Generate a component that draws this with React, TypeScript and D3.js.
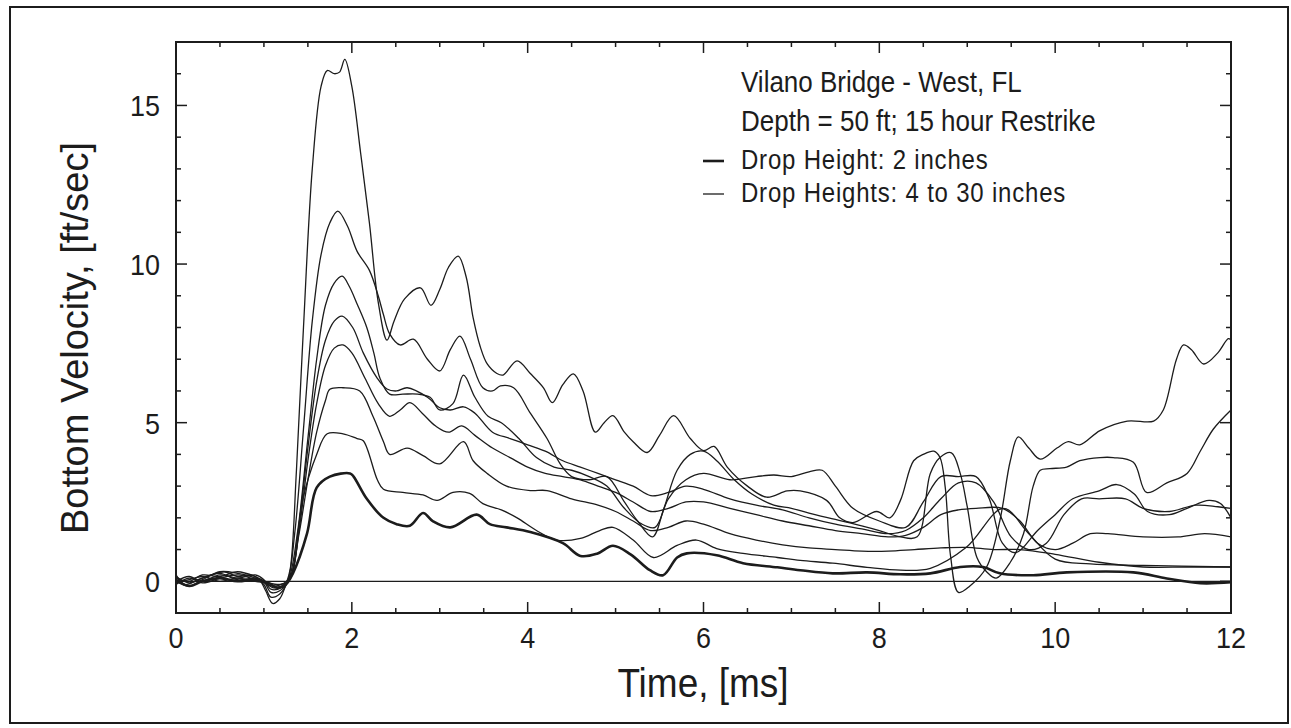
import React from "react";
import * as d3 from "d3";

type P = [number, number];

const xTicksMajor = [0, 2, 4, 6, 8, 10, 12];
const yTicksMajor = [0, 5, 10, 15];
const titleLines = ["Vilano Bridge - West, FL", "Depth = 50 ft; 15 hour Restrike"];
const legendLabels = ["Drop Height: 2 inches", "Drop Heights: 4 to 30 inches"];
const xTitle = "Time, [ms]";
const yTitle = "Bottom Velocity, [ft/sec]";

// Drop height 2 inches (thick)
const curve2in: P[] = [
  [0, 0.05], [0.15, -0.15], [0.3, 0.0], [0.5, 0.1], [0.7, 0.0], [0.9, 0.05], [1.05, -0.05], [1.15, -0.2], [1.25, -0.1],
  [1.33, 0.25], [1.49, 1.5], [1.6, 2.95], [1.75, 3.3], [1.98, 3.4], [2.02, 3.3], [2.17, 2.6], [2.36, 2.0], [2.51, 1.8],
  [2.66, 1.75], [2.81, 2.15], [2.92, 1.9], [3.12, 1.7], [3.42, 2.1], [3.57, 1.8], [3.76, 1.7], [4.03, 1.55], [4.4, 1.2],
  [4.6, 0.8], [4.79, 0.87], [4.97, 1.12], [5.17, 0.85], [5.39, 0.35], [5.54, 0.19], [5.7, 0.75], [5.81, 0.88], [6.15, 0.82],
  [6.45, 0.57], [6.84, 0.44], [7.1, 0.35], [7.47, 0.25], [7.86, 0.28], [8.24, 0.22], [8.58, 0.25], [8.92, 0.45], [9.18, 0.45],
  [9.37, 0.25], [9.75, 0.19], [10.13, 0.28], [10.89, 0.28], [11.27, 0.09], [11.65, -0.06], [12, -0.03],
];

// Drop heights 4 to 30 inches (thin)
const curveA: P[] = [
  [0, 0.2], [0.1, -0.1], [0.25, 0.05], [0.4, 0.2], [0.55, 0.3], [0.7, 0.15], [0.85, 0.2], [0.95, 0.05], [1.02, -0.3],
  [1.1, -0.7], [1.18, -0.55], [1.25, -0.1], [1.3, 0.4], [1.37, 3.5], [1.45, 8.0], [1.55, 13.0], [1.65, 15.6], [1.72, 16.1],
  [1.8, 16.0], [1.86, 16.05], [1.92, 16.45], [2.0, 15.6], [2.1, 13.5], [2.2, 11.3], [2.3, 8.8], [2.4, 7.6], [2.48, 8.2],
  [2.6, 8.9], [2.78, 9.25], [2.9, 8.7], [3.0, 9.2], [3.1, 9.9], [3.21, 10.25], [3.3, 9.6], [3.38, 8.3], [3.46, 7.4],
  [3.54, 6.85], [3.65, 6.55], [3.72, 6.5], [3.88, 6.95], [4.03, 6.55], [4.18, 6.1], [4.28, 5.63], [4.4, 6.2], [4.52, 6.54],
  [4.63, 6.0], [4.77, 4.7], [4.87, 5.0], [4.97, 5.22], [5.1, 4.7], [5.2, 4.4], [5.36, 4.06], [5.5, 4.6], [5.66, 5.22],
  [5.85, 4.5], [6.0, 4.12], [6.12, 4.25], [6.27, 3.6], [6.5, 3.0], [6.72, 2.65], [6.95, 2.85], [7.1, 2.85], [7.4, 2.55],
  [7.55, 2.0], [7.7, 1.85], [7.97, 2.2], [8.12, 2.0], [8.24, 2.55], [8.39, 3.8], [8.5, 4.0], [8.62, 4.1], [8.69, 3.9],
  [8.75, 2.95], [8.81, 0.8], [8.9, -0.35], [9.03, -0.15], [9.22, 0.45], [9.37, 1.9], [9.49, 3.8], [9.58, 4.55], [9.7, 4.2],
  [9.83, 3.85], [10.02, 4.2], [10.15, 4.4], [10.28, 4.3], [10.51, 4.75], [10.82, 5.05], [11.12, 5.05], [11.23, 5.4],
  [11.38, 7.0], [11.46, 7.45], [11.55, 7.3], [11.69, 6.85], [11.85, 7.2], [11.97, 7.65], [12, 7.6],
];

const curveB: P[] = [
  [0, 0.0], [0.15, -0.15], [0.3, 0.05], [0.5, 0.3], [0.7, 0.25], [0.9, 0.1], [1.0, -0.1], [1.08, -0.5], [1.18, -0.4],
  [1.27, 0.0], [1.35, 1.5], [1.45, 4.8], [1.55, 8.2], [1.65, 10.3], [1.75, 11.3], [1.84, 11.67], [1.95, 11.2], [2.06, 10.4],
  [2.2, 9.8], [2.3, 9.0], [2.36, 8.4], [2.43, 7.8], [2.55, 7.45], [2.7, 7.63], [2.86, 7.0], [3.0, 6.63], [3.12, 7.3],
  [3.23, 7.73], [3.35, 7.0], [3.49, 6.1], [3.6, 6.0], [3.69, 6.16], [3.84, 6.1], [4.03, 5.3], [4.22, 4.5], [4.37, 3.7],
  [4.5, 3.3], [4.7, 3.2], [4.9, 3.3], [5.1, 2.5], [5.25, 1.9], [5.42, 1.4], [5.55, 2.3], [5.7, 3.5], [5.85, 4.0], [6.0, 4.1],
  [6.15, 3.8], [6.35, 3.2], [6.55, 2.75], [6.8, 2.4], [7.0, 2.3], [7.2, 2.15], [7.5, 1.95], [7.8, 1.75], [8.0, 1.6],
  [8.24, 1.4], [8.43, 1.4], [8.58, 3.4], [8.69, 3.9], [8.82, 4.05], [8.92, 3.4], [9.0, 2.35], [9.11, 0.75], [9.22, 0.3],
  [9.33, 0.1], [9.49, 0.6], [9.64, 1.5], [9.75, 3.0], [9.83, 3.5], [9.94, 3.55], [10.13, 3.6], [10.28, 3.8], [10.51, 3.9],
  [10.66, 3.9], [10.89, 3.75], [11.04, 2.8], [11.27, 3.1], [11.5, 3.4], [11.65, 4.1], [11.8, 4.8], [12, 5.4],
];

const curveC: P[] = [
  [0, 0.1], [0.15, 0.0], [0.3, 0.2], [0.5, 0.15], [0.7, 0.3], [0.9, 0.15], [1.0, 0.0], [1.08, -0.35], [1.18, -0.3],
  [1.28, 0.05], [1.38, 1.5], [1.5, 4.5], [1.6, 7.0], [1.7, 8.7], [1.8, 9.4], [1.89, 9.62], [1.97, 9.3], [2.06, 8.74],
  [2.17, 8.0], [2.25, 7.2], [2.32, 6.4], [2.43, 5.9], [2.58, 5.9], [2.75, 5.9], [2.89, 5.8], [3.0, 5.4], [3.15, 5.6],
  [3.27, 6.5], [3.4, 5.8], [3.55, 5.2], [3.7, 5.0], [3.9, 4.5], [4.1, 3.9], [4.3, 3.6], [4.5, 3.5], [4.7, 3.3], [4.9, 3.0],
  [5.1, 2.3], [5.3, 1.8], [5.45, 1.7], [5.6, 2.6], [5.8, 3.2], [6.0, 3.4], [6.3, 3.2], [6.6, 3.3], [6.8, 3.35], [7.0, 3.3],
  [7.2, 3.45], [7.35, 3.5], [7.5, 3.0], [7.7, 2.3], [8.0, 1.9], [8.3, 1.7], [8.5, 2.5], [8.7, 3.3], [8.9, 3.3], [9.1, 3.3],
  [9.25, 2.6], [9.4, 1.2], [9.55, 0.9], [9.8, 1.6], [10.0, 2.1], [10.2, 2.6], [10.5, 2.85], [10.7, 3.05], [10.9, 2.75],
  [11.05, 2.2], [11.3, 2.1], [11.5, 2.3], [11.75, 2.55], [11.88, 2.45], [12, 2.0],
];

const curveD: P[] = [
  [0, -0.1], [0.15, 0.1], [0.3, 0.0], [0.5, 0.2], [0.7, 0.1], [0.9, 0.2], [1.0, 0.05], [1.08, -0.25], [1.2, -0.2],
  [1.3, 0.1], [1.4, 1.8], [1.5, 4.2], [1.6, 6.3], [1.7, 7.6], [1.8, 8.2], [1.89, 8.36], [2.01, 8.0], [2.13, 7.2],
  [2.29, 6.4], [2.4, 6.06], [2.51, 6.0], [2.63, 6.1], [2.86, 5.8], [3.0, 5.47], [3.12, 5.4], [3.27, 5.5], [3.4, 5.3],
  [3.6, 4.7], [3.8, 4.5], [4.0, 4.3], [4.2, 4.1], [4.4, 3.8], [4.6, 3.6], [4.8, 3.4], [5.0, 3.2], [5.2, 3.0], [5.4, 2.7],
  [5.6, 2.8], [5.8, 3.0], [6.0, 2.9], [6.3, 2.6], [6.6, 2.4], [6.9, 2.25], [7.2, 2.0], [7.5, 1.8], [7.8, 1.65], [8.1, 1.5],
  [8.3, 1.6], [8.5, 2.0], [8.7, 2.6], [8.9, 3.1], [9.1, 3.1], [9.3, 2.5], [9.5, 1.4], [9.7, 1.0], [9.9, 1.2], [10.1, 2.1],
  [10.3, 2.6], [10.5, 2.6], [10.8, 2.6], [11.0, 2.3], [11.3, 2.2], [11.6, 2.4], [11.85, 2.35], [12, 2.3],
];

const curveE: P[] = [
  [0, 0.15], [0.15, -0.05], [0.3, 0.1], [0.5, 0.25], [0.7, 0.05], [0.9, 0.1], [1.0, 0.0], [1.1, -0.2], [1.2, -0.15],
  [1.3, 0.1], [1.4, 1.6], [1.5, 3.8], [1.6, 5.6], [1.7, 6.8], [1.8, 7.35], [1.9, 7.45], [2.0, 7.2], [2.15, 6.4],
  [2.3, 5.6], [2.43, 5.2], [2.55, 5.4], [2.66, 5.63], [2.8, 5.3], [2.95, 4.9], [3.1, 4.7], [3.25, 4.9], [3.4, 4.6],
  [3.6, 4.2], [3.8, 3.9], [4.0, 3.6], [4.2, 3.4], [4.4, 3.3], [4.6, 3.2], [4.8, 3.0], [5.0, 2.8], [5.2, 2.5], [5.4, 2.2],
  [5.6, 2.3], [5.8, 2.5], [6.0, 2.5], [6.3, 2.3], [6.6, 2.1], [6.9, 1.9], [7.2, 1.75], [7.5, 1.6], [7.8, 1.5], [8.1, 1.4],
  [8.3, 1.45], [8.5, 1.7], [8.7, 2.1], [8.9, 2.25], [9.1, 2.3], [9.4, 2.3], [9.6, 1.9], [9.8, 1.2], [10.0, 1.0],
  [10.2, 1.2], [10.4, 1.5], [10.6, 1.5], [11.0, 1.4], [11.4, 1.4], [11.7, 1.5], [12, 1.4],
];

const curveF: P[] = [
  [0, 0.0], [0.15, 0.15], [0.3, -0.05], [0.5, 0.1], [0.7, 0.2], [0.9, 0.05], [1.0, -0.05], [1.1, -0.15], [1.2, -0.1],
  [1.3, 0.15], [1.4, 1.5], [1.5, 3.2], [1.6, 4.7], [1.7, 5.7], [1.75, 6.05], [1.9, 6.1], [2.09, 6.0], [2.24, 5.2],
  [2.36, 4.4], [2.43, 4.0], [2.63, 4.2], [2.81, 3.96], [3.0, 3.7], [3.27, 4.4], [3.38, 3.8], [3.54, 3.4], [3.76, 3.0],
  [4.03, 2.86], [4.22, 2.86], [4.5, 2.6], [4.8, 2.4], [5.0, 2.2], [5.2, 1.9], [5.4, 1.6], [5.6, 1.7], [5.8, 1.9],
  [6.0, 1.8], [6.3, 1.5], [6.6, 1.3], [6.9, 1.15], [7.2, 1.05], [7.5, 1.0], [7.8, 0.95], [8.1, 0.95], [8.4, 1.0],
  [8.7, 1.05], [8.99, 1.07], [9.3, 1.0], [9.6, 1.0], [10.0, 0.85], [10.5, 0.6], [11.0, 0.45], [11.5, 0.45], [12, 0.45],
];

const curveG: P[] = [
  [0, -0.05], [0.15, 0.05], [0.3, 0.15], [0.5, 0.0], [0.7, 0.1], [0.9, 0.0], [1.05, -0.05], [1.15, -0.1], [1.25, -0.05],
  [1.32, 0.2], [1.44, 2.55], [1.6, 4.0], [1.72, 4.65], [1.9, 4.65], [2.06, 4.5], [2.13, 4.43], [2.29, 3.2], [2.36, 2.9],
  [2.58, 2.8], [2.81, 2.72], [2.97, 2.55], [3.15, 2.8], [3.34, 2.77], [3.49, 2.45], [3.7, 2.25], [3.88, 2.0], [4.1, 1.6],
  [4.33, 1.3], [4.6, 1.35], [4.82, 1.6], [4.97, 1.7], [5.2, 1.3], [5.43, 0.75], [5.7, 1.13], [5.92, 1.3], [6.15, 1.03],
  [6.45, 0.88], [6.84, 0.75], [7.1, 0.66], [7.47, 0.57], [7.86, 0.44], [8.24, 0.35], [8.58, 0.41], [8.99, 1.07],
  [9.41, 2.3], [9.7, 1.5], [10.0, 0.7], [10.4, 0.55], [11.0, 0.5], [12, 0.45],
];

const thinCurves: P[][] = [curveA, curveB, curveC, curveD, curveE, curveF, curveG];

const W = 1291;
const H = 728;
const plot = { left: 176, right: 1231, top: 42, bottom: 613 };

export default function App() {
  const x = d3.scaleLinear().domain([0, 12]).range([plot.left, plot.right]);
  const y = d3.scaleLinear().domain([-1, 17]).range([plot.bottom, plot.top]);
  const line = d3
    .line<P>()
    .x((d) => x(d[0]))
    .y((d) => y(d[1]))
    .curve(d3.curveCatmullRom.alpha(0.5));

  const xMinor = d3.range(0, 12.001, 0.5);
  const yMinor = d3.range(-1, 17.001, 1);
  const ink = "#1c1c1c";
  const font = "'Liberation Sans', Arial, Helvetica, sans-serif";
  const sy = 1.12;

  return (
    <svg
      width={W}
      height={H}
      style={{ position: "absolute", left: 0, top: 0, background: "#fff" }}
      fontFamily={font}
    >
      <rect x={0} y={0} width={W} height={H} fill="#fff" />
      <rect x={10} y={7} width={1278} height={716} fill="none" stroke={ink} strokeWidth={2} />

      <defs>
        <clipPath id="plotClip">
          <rect x={plot.left} y={plot.top} width={plot.right - plot.left} height={plot.bottom - plot.top} />
        </clipPath>
      </defs>

      <line x1={x(0)} x2={x(12)} y1={y(0)} y2={y(0)} stroke={ink} strokeWidth={1.2} />

      <g clipPath="url(#plotClip)" fill="none" stroke={ink}>
        {thinCurves.map((c, i) => (
          <path key={i} d={line(c) || ""} strokeWidth={1.3} />
        ))}
        <path d={line(curve2in) || ""} strokeWidth={2.6} />
      </g>

      <rect
        x={plot.left}
        y={plot.top}
        width={plot.right - plot.left}
        height={plot.bottom - plot.top}
        fill="none"
        stroke={ink}
        strokeWidth={2}
      />

      {xMinor.map((t) => {
        const major = Math.abs(t / 2 - Math.round(t / 2)) < 1e-6;
        const len = major ? 11 : 5;
        return (
          <g key={"xt" + t}>
            <line x1={x(t)} x2={x(t)} y1={plot.bottom} y2={plot.bottom - len} stroke={ink} strokeWidth={1.5} />
            <line x1={x(t)} x2={x(t)} y1={plot.top} y2={plot.top + len} stroke={ink} strokeWidth={1.5} />
          </g>
        );
      })}
      {yMinor.map((t) => {
        const major = t % 5 === 0;
        const len = major ? 11 : 5;
        return (
          <g key={"yt" + t}>
            <line x1={plot.left} x2={plot.left + len} y1={y(t)} y2={y(t)} stroke={ink} strokeWidth={1.5} />
            <line x1={plot.right} x2={plot.right - len} y1={y(t)} y2={y(t)} stroke={ink} strokeWidth={1.5} />
          </g>
        );
      })}

      {yTicksMajor.map((t) => (
        <text
          key={"yl" + t}
          transform={`translate(160,${y(t) + 11}) scale(1,${sy})`}
          textAnchor="end"
          fontSize={27}
          fill={ink}
        >
          {t}
        </text>
      ))}
      {xTicksMajor.map((t) => (
        <text
          key={"xl" + t}
          transform={`translate(${x(t)},648) scale(1,${sy})`}
          textAnchor="middle"
          fontSize={27}
          fill={ink}
        >
          {t}
        </text>
      ))}

      <text transform={`translate(703,697) scale(1,${sy})`} textAnchor="middle" fontSize={37} fill={ink}>
        {xTitle}
      </text>
      <text transform={`translate(88,338) rotate(-90)`} textAnchor="middle" fontSize={38} fill={ink}>
        {yTitle}
      </text>

      {titleLines.map((s, i) => (
        <text key={s} transform={`translate(741,${92 + i * 39}) scale(1,${sy})`} fontSize={26} fill={ink}>
          {s}
        </text>
      ))}
      {legendLabels.map((s, i) => (
        <g key={s}>
          <line
            x1={703}
            x2={724}
            y1={161 + i * 33}
            y2={161 + i * 33}
            stroke={ink}
            strokeWidth={i === 0 ? 2.6 : 1.3}
          />
          <text
            transform={`translate(741,${169 + i * 33}) scale(1,${sy})`}
            fontSize={24}
            letterSpacing={0.8}
            fill={ink}
          >
            {s}
          </text>
        </g>
      ))}
    </svg>
  );
}
